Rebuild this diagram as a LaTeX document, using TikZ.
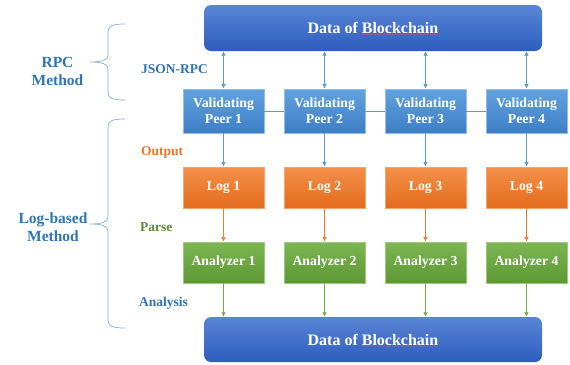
\documentclass[tikz,border=0pt]{standalone}
\usepackage{fontspec}
\setmainfont{Liberation Serif}
\usetikzlibrary{arrows.meta,decorations.pathmorphing}

\definecolor{peerT}{HTML}{62A2DD}
\definecolor{peerB}{HTML}{3E7EC6}
\definecolor{peerE}{HTML}{94BEE6}
\definecolor{logT}{HTML}{F3904A}
\definecolor{logB}{HTML}{E46B1C}
\definecolor{logE}{HTML}{F2A66E}
\definecolor{anaT}{HTML}{7DB653}
\definecolor{anaB}{HTML}{5C9834}
\definecolor{anaE}{HTML}{9CCB7C}
\definecolor{chT}{HTML}{5A86D6}
\definecolor{chB}{HTML}{2D5CBE}
\definecolor{sideblue}{HTML}{2E75B6}
\definecolor{outorange}{HTML}{E8772E}
\definecolor{parsegreen}{HTML}{5A8A35}
\definecolor{arrblue}{HTML}{5B9BD5}
\definecolor{arrorange}{HTML}{ED7D31}
\definecolor{arrgreen}{HTML}{70AD47}
\definecolor{braceblue}{HTML}{7FAEDC}
\definecolor{spellred}{HTML}{C8506A}

\begin{document}
\begin{tikzpicture}[x=1pt,y=-1pt,
  box/.style={minimum width=81pt, minimum height=41pt, inner sep=0pt,
    text=white, font=\bfseries\fontsize{13.8}{16}\selectfont, align=center},
  peerbox/.style={box, minimum height=44pt, top color=peerT, bottom color=peerB,
    draw=peerE, line width=0.6pt},
  logbox/.style={box, top color=logT, bottom color=logB, draw=logE, line width=0.6pt},
  anabox/.style={box, top color=anaT, bottom color=anaB, draw=anaE, line width=0.6pt},
  chainbox/.style={box, minimum width=338pt, minimum height=46pt, rounded corners=7pt,
    top color=chT, bottom color=chB, font=\bfseries\fontsize{16}{19}\selectfont},
  link/.style={line width=0.8pt, -{Latex[length=4.5pt,width=4.5pt]}},
  duplex/.style={line width=0.8pt, {Latex[length=4.5pt,width=4.5pt]}-{Latex[length=4.5pt,width=4.5pt]}},
  tag/.style={font=\bfseries\fontsize{13.5}{16}\selectfont, anchor=west, inner sep=0pt},
  side/.style={font=\bfseries\fontsize{15.5}{18}\selectfont, align=center, text=sideblue},
  brace/.style={draw=braceblue, line width=0.7pt},
  squiggle/.style={draw=spellred, line width=0.25pt, decorate,
    decoration={snake, amplitude=0.45pt, segment length=2.2pt}}
]
\useasboundingbox (0,0) rectangle (570,364);

% blockchain data stores
\node[chainbox] (top) at (373,28) {Data of Blockchain};
\node[chainbox, minimum height=45pt] (bot) at (373,339.5) {Data of Blockchain};
\draw[squiggle] ([xshift=-11pt,yshift=-6.5pt]top.center) -- ([xshift=65pt,yshift=-6.5pt]top.center);
\draw[squiggle] ([xshift=-11pt,yshift=-6.5pt]bot.center) -- ([xshift=65pt,yshift=-6.5pt]bot.center);

% peers, logs and analyzers
\foreach \i/\x in {1/223.5, 2/324.5, 3/425.5, 4/526.5} {
  \node[peerbox] (p\i) at (\x,111) {Validating\\Peer \i};
  \node[logbox]  (l\i) at (\x,187.5) {Log \i};
  \node[anabox]  (a\i) at (\x,262.5) {Analyzer \i};
}

% peer network links
\draw[arrblue, line width=0.8pt] (p1) -- (p2) (p2) -- (p3) (p3) -- (p4);

% data flow
\foreach \i in {1,...,4} {
  \draw[duplex, arrblue] (p\i.north) -- (top.south -| p\i.north);
  \draw[link, arrblue] (p\i) -- (l\i);
  \draw[link, arrorange] (l\i) -- (a\i);
  \draw[link, arrgreen] (a\i.south) -- (bot.north -| a\i.south);
}

% stage labels
\node[tag, text=sideblue]   (json)  at (141,69)  {JSON-RPC};
\node[tag, text=outorange]  (out)   at (141,152) {Output};
\node[tag, text=parsegreen] (parse) at (140,227) {Parse};
\node[tag, text=sideblue]   (ana)   at (139,303) {Analysis};

% method groups
\node[side] (rpc) at (57.5,71) {RPC\\Method};
\node[side] (logm) at (53,227) {Log-based\\Method};

\draw[brace] (125,24) .. controls (112,24) and (108,26) .. (108,32) -- (108,55)
  .. controls (108,60) and (102,62) .. (90,62)
  .. controls (102,62) and (108,64) .. (108,69) -- (108,92)
  .. controls (108,98) and (112,100) .. (125,100);
\draw[brace] (125,119) .. controls (112,119) and (108,121) .. (108,127) -- (108,217)
  .. controls (108,222) and (102,224) .. (90,224)
  .. controls (102,224) and (108,226) .. (108,231) -- (108,320)
  .. controls (108,326) and (112,328) .. (125,328);
\end{tikzpicture}
\end{document}
